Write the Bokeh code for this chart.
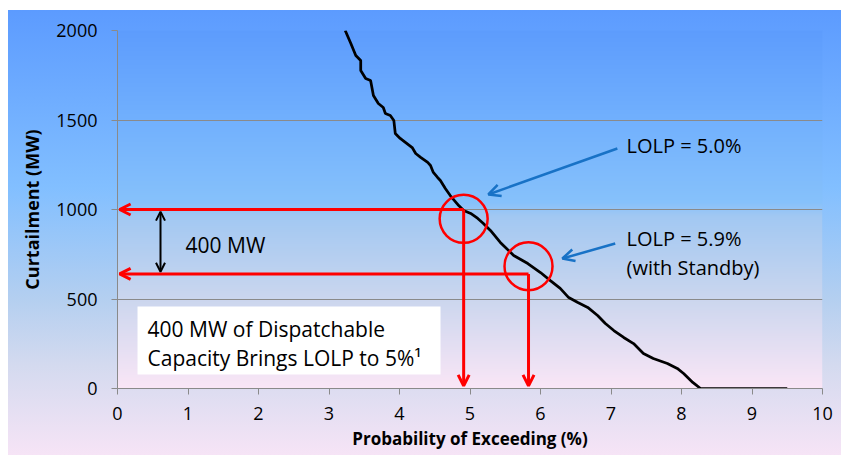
import numpy as np
from bokeh.plotting import figure
from bokeh.models import Range1d, FixedTicker, Arrow, OpenHead, Label
from bokeh.embed import file_html
from bokeh.resources import INLINE

# ---- data ----
prob = [3.23, 3.31, 3.38, 3.45, 3.45, 3.52, 3.59, 3.63, 3.70, 3.77,
        3.80, 3.87, 3.92, 3.94, 4.01, 4.18, 4.23, 4.30, 4.40, 4.44,
        4.48, 4.54, 4.58, 4.65, 4.72, 4.84, 4.91, 5.01, 5.11, 5.19,
        5.29, 5.43, 5.62, 5.82, 6.00, 6.14, 6.28, 6.40, 6.53, 6.67,
        6.81, 6.92, 7.04, 7.18, 7.32, 7.46, 7.60, 7.80, 7.94, 8.03,
        8.16, 8.27, 9.50]
curt = [2000, 1927, 1860, 1832, 1777, 1732, 1721, 1637, 1592, 1570,
        1536, 1525, 1497, 1425, 1397, 1346, 1313, 1291, 1263, 1246,
        1207, 1179, 1162, 1117, 1078, 1022, 994, 978, 950, 922,
        883, 816, 743, 698, 648, 603, 559, 508, 480, 453,
        408, 363, 324, 285, 251, 196, 168, 140, 112, 84,
        34, 0, 0]
x_ticks = [0, 1, 2, 3, 4, 5, 6, 7, 8, 9, 10]
y_ticks = [0, 500, 1000, 1500, 2000]
x_title = "Probability of Exceeding (%)"
y_title = "Curtailment (MW)"

lolp_x = [4.91, 5.83]          # LOLP points on the curve
lolp_y = [1000, 640]           # curtailment levels (MW)
circle_y = [948, 683]
lolp_labels = ["LOLP = 5.0%", "LOLP = 5.9%"]
lolp_label_y = [1358, 838]
standby_label = "(with Standby)"
standby_label_y = 676
label_x = 7.22
pointer_start_x = [7.09, 7.06]
pointer_start_y = [1341, 810]
pointer_end_x = [5.26, 6.31]
pointer_end_y = [1084, 726]
gap_label = "400 MW"
gap_x = 0.61
gap_label_x = 0.965
gap_label_y = 799
box_lines = ["400 MW of Dispatchable", "Capacity Brings LOLP to 5%\u00b9"]
box_line_y = [335, 173]
box_text_x = 0.426
box_left, box_right, box_top, box_bottom = 0.284, 4.582, 458, 78

FONT = "Open Sans"
RED = "#ff0000"
BLUE = "#1872c6"
GRID = "#8a8a8a"

outer_bg = ("linear-gradient(90deg, #ffffff 0px, #ffffff 8px, rgba(255,255,255,0) 8px), "
            "linear-gradient(180deg, #ffffff 0px, #ffffff 10px, #5c9bff 10px, "
            "#82bfff 188px, #b4cff0 299px, #d4daef 366px, #f6e4f6 455px, #ffffff 455px)")

p = figure(width=841, height=458, x_range=Range1d(0, 10), y_range=Range1d(0, 2000),
           output_backend="svg", toolbar_location=None,
           min_border_left=117, min_border_right=19, min_border_top=30, min_border_bottom=70)
p.background_fill_alpha = 0
p.border_fill_alpha = 0
p.outline_line_color = None
p.styles = {"background": outer_bg}

# inner plot-area gradient
stops = [(0.0, "#5d9cfd"), (0.25, "#71b0fd"), (0.48, "#86c1fb"), (0.52, "#a2c8f2"),
         (0.75, "#cbd6ee"), (1.0, "#fae6f6")]
n = 360
fr = [s[0] for s in stops]
cols = np.array([[int(c[1:3], 16), int(c[3:5], 16), int(c[5:7], 16)] for _, c in stops], dtype=float)
img = np.empty((n, 1), dtype=np.uint32)
view = img.view(dtype=np.uint8).reshape((n, 1, 4))
for i in range(n):
    f = 1 - (i + 0.5) / n
    for k in range(3):
        view[i, 0, k] = int(round(np.interp(f, fr, cols[:, k])))
    view[i, 0, 3] = 255
p.image_rgba(image=[img], x=0, y=0, dw=10, dh=2000, level="image")

# axes
for ax in (p.xaxis[0], p.yaxis[0]):
    ax.axis_line_color = GRID
    ax.major_tick_line_color = GRID
    ax.minor_tick_line_color = None
    ax.major_tick_in = 0
    ax.major_tick_out = 6
    ax.major_label_text_font = FONT
    ax.major_label_text_font_size = "18px"
    ax.major_label_text_color = "black"
    ax.axis_label_text_font = FONT
    ax.axis_label_text_font_style = "bold"
    ax.axis_label_text_color = "black"
p.xaxis.axis_label_text_font_size = "17px"
p.yaxis.axis_label_text_font_size = "18px"
p.xaxis.ticker = FixedTicker(ticks=x_ticks)
p.yaxis.ticker = FixedTicker(ticks=y_ticks)
p.xaxis.axis_label = x_title
p.yaxis.axis_label = y_title
p.yaxis.major_label_standoff = 14
p.xaxis.major_label_standoff = 12
p.yaxis.axis_label_standoff = 9
p.xaxis.axis_label_standoff = 4
p.xgrid.visible = False
p.ygrid.grid_line_color = GRID
p.ygrid.ticker = FixedTicker(ticks=y_ticks)

# curve
p.line(prob, curt, line_color="black", line_width=2.75)

# white text box
p.quad(left=[box_left], right=[box_right], top=[box_top], bottom=[box_bottom],
       fill_color="white", line_color=None)
for t, yy in zip(box_lines, box_line_y):
    p.add_layout(Label(x=box_text_x, y=yy, text=t, text_font=FONT, text_font_size="21px",
                       text_baseline="middle", text_color="black"))

# red lines with arrows
for xx, yy in zip(lolp_x, lolp_y):
    p.add_layout(Arrow(end=OpenHead(size=11, line_color=RED, line_width=3),
                       x_start=xx, y_start=yy, x_end=0.03, y_end=yy,
                       line_color=RED, line_width=3))
    p.add_layout(Arrow(end=OpenHead(size=11, line_color=RED, line_width=3),
                       x_start=xx, y_start=yy, x_end=xx, y_end=15,
                       line_color=RED, line_width=3))

p.scatter(lolp_x, circle_y, marker="circle", size=48, fill_color=None,
          line_color=RED, line_width=2.5)

# 400 MW bracket
p.add_layout(Arrow(start=OpenHead(size=9, line_color="black", line_width=2),
                   end=OpenHead(size=9, line_color="black", line_width=2),
                   x_start=gap_x, y_start=lolp_y[0] - 12, x_end=gap_x, y_end=lolp_y[1] + 12,
                   line_color="black", line_width=2))
p.add_layout(Label(x=gap_label_x, y=gap_label_y, text=gap_label, text_font=FONT,
                   text_font_size="21px", text_baseline="middle", text_color="black"))

# LOLP pointers
for sx, sy, ex, ey in zip(pointer_start_x, pointer_start_y, pointer_end_x, pointer_end_y):
    p.add_layout(Arrow(end=OpenHead(size=12, line_color=BLUE, line_width=2.5),
                       x_start=sx, y_start=sy, x_end=ex, y_end=ey,
                       line_color=BLUE, line_width=2.5))
for t, yy in zip(lolp_labels, lolp_label_y):
    p.add_layout(Label(x=label_x, y=yy, text=t, text_font=FONT, text_font_size="20px",
                       text_baseline="middle", text_color="black"))
p.add_layout(Label(x=label_x, y=standby_label_y, text=standby_label, text_font=FONT,
                   text_font_size="20px", text_baseline="middle", text_color="black"))

open("out.html", "w").write(file_html(p, INLINE))
